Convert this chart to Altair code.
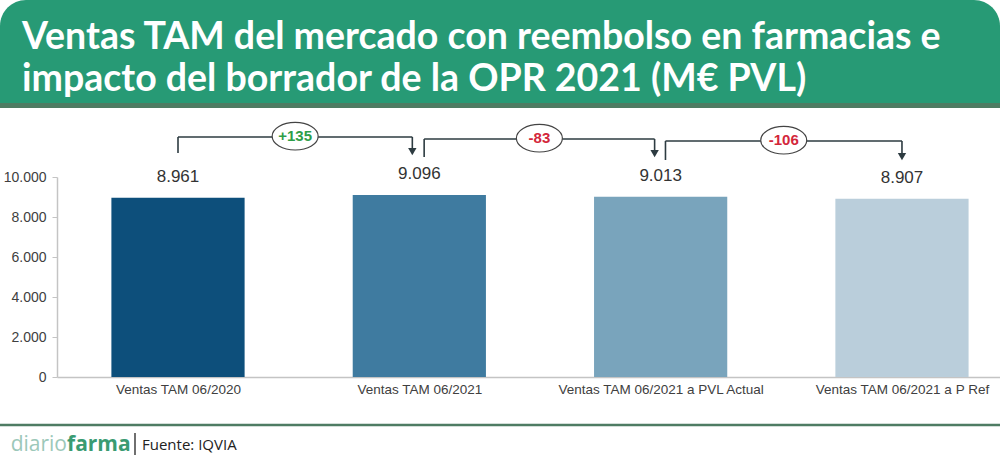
import json
import altair as alt
import pandas as pd

# ---------------- data ----------------
categories = [
    "Ventas TAM 06/2020",
    "Ventas TAM 06/2021",
    "Ventas TAM 06/2021 a PVL Actual",
    "Ventas TAM 06/2021 a P Ref",
]
values = [8961, 9096, 9013, 8907]
y_ticks = [0, 2000, 4000, 6000, 8000, 10000]
bar_colors = ["#0d4f7b", "#3f7ba0", "#79a4bc", "#bacedb"]

title_lines = [
    "Ventas TAM del mercado con reembolso en farmacias  e",
    "impacto del borrador de la OPR 2021 (M€ PVL)",
]
brand_light = "diario"
brand_bold = "farma"
source_text = "Fuente: IQVIA"

# ---------------- layout constants ----------------
W, H = 943, 200          # plot area
PL, PT = 57, 177         # plot origin in the page
X_DOMAIN = [-0.5014, 3.4062]
HALF_BAR = 0.276

GREEN = "#279a75"
DARK_GREEN = "#4e7c63"
LINE = "#2d3b41"
AXIS_GREY = "#c4c4c4"
TXT = "#404040"

xs = alt.Scale(domain=X_DOMAIN, nice=False, zero=False)
ys = alt.Scale(domain=[0, 10000], nice=False)

df = pd.DataFrame({"idx": list(range(len(categories))), "cat": categories, "value": values})

# bracket annotations between consecutive bars (geometry constants in code)
start_off = [0.0, 0.02, 0.02]
end_off = [-0.029, -0.025, 0.0]
top_lvl = [12000, 11900, 11800]
left_bottom = [11200, 11000, 10850]
tip_lvl = [11100, 11000, 10850]
rows = []
for i in range(len(values) - 1):
    s = i + start_off[i]
    e = i + 1 + end_off[i]
    rows.append({
        "xs": s, "xe": e, "xm": (s + e) / 2,
        "top": top_lvl[i], "lb": left_bottom[i],
        "shaft": tip_lvl[i] + 250, "head": tip_lvl[i] + 170,
        "ell": top_lvl[i] + 40,
        "delta": values[i + 1] - values[i],
    })
br = pd.DataFrame(rows)
one = pd.DataFrame({"k": [0]})

label_expr = json.dumps(categories) + "[datum.value]"

X_AXIS = alt.Axis(values=[0, 1, 2, 3], labelExpr=label_expr, ticks=False,
                  grid=False, domainColor=AXIS_GREY, domainWidth=1.5,
                  labelFont="Liberation Sans", labelFontSize=13.5,
                  labelColor=TXT, labelPadding=5, labelLimit=0,
                  labelOverlap=False)
Y_AXIS = alt.Axis(values=y_ticks, grid=False, domainColor=AXIS_GREY, domainWidth=1.5,
                  tickColor=AXIS_GREY, tickSize=5, labelOverlap=False,
                  labelExpr="replace(format(datum.value, ','), ',', '.')",
                  labelFont="Liberation Sans", labelFontSize=14,
                  labelColor=TXT, labelPadding=6)


def X(field):
    return alt.X(field, scale=xs, title=None, axis=X_AXIS)


def Y(field):
    return alt.Y(field, scale=ys, title=None, axis=Y_AXIS)


bars = alt.Chart(df).mark_bar().encode(
    x=X("x0:Q"), x2="x1:Q",
    y=Y("value:Q"), y2=alt.datum(0),
    color=alt.Color("cat:N", scale=alt.Scale(domain=categories, range=bar_colors), legend=None),
).transform_calculate(x0=f"datum.idx - {HALF_BAR}", x1=f"datum.idx + {HALF_BAR}")

vlabels = alt.Chart(df).mark_text(
    dy=-21, fontSize=17, font="Liberation Sans", color="#333333", baseline="middle"
).encode(
    x=X("idx:Q"), y=Y("value:Q"), text="lbl:N",
).transform_calculate(lbl="replace(format(datum.value, ','), ',', '.')")

rule_kw = dict(color=LINE, strokeWidth=1.6)
hline = alt.Chart(br).mark_rule(**rule_kw).encode(x=X("xs:Q"), x2="xe:Q", y=Y("top:Q"))
lvert = alt.Chart(br).mark_rule(**rule_kw).encode(x=X("xs:Q"), y=Y("top:Q"), y2="lb:Q")
shaft = alt.Chart(br).mark_rule(**rule_kw).encode(x=X("xe:Q"), y=Y("top:Q"), y2="shaft:Q")
heads = alt.Chart(br).mark_point(shape="triangle-down", filled=True, fill=LINE, size=70,
                                 opacity=1).encode(x=X("xe:Q"), y=Y("head:Q"))
ELLIPSE = "M -1 0 A 1 0.6 0 1 1 1 0 A 1 0.6 0 1 1 -1 0 Z"
ells = alt.Chart(br).mark_point(shape=ELLIPSE, filled=True, fill="white", stroke="#444444",
                                strokeWidth=1.2, size=2116, opacity=1).encode(
    x=X("xm:Q"), y=Y("ell:Q"))
dtext = alt.Chart(br).mark_text(fontSize=15, fontWeight="bold", font="Liberation Sans",
                                baseline="middle").encode(
    x=X("xm:Q"), y=Y("ell:Q"), text="dl:N",
    color=alt.condition("datum.delta > 0", alt.value("#2e9e48"), alt.value("#d3263a")),
).transform_calculate(dl="(datum.delta > 0 ? '+' : '') + datum.delta")

# banner
banner = alt.Chart(one).mark_rect(color=GREEN, cornerRadiusTopLeft=26, cornerRadiusTopRight=26).encode(
    x=alt.value(-PL), x2=alt.value(W), y=alt.value(-PT), y2=alt.value(103 - PT))
stripe = alt.Chart(one).mark_rect(color=DARK_GREEN).encode(
    x=alt.value(-PL), x2=alt.value(W), y=alt.value(103 - PT), y2=alt.value(108 - PT))
title_kw = dict(align="left", baseline="alphabetic", color="white", fontWeight="bold",
                font="Lato", fontSize=37.5)
t1 = alt.Chart(one).mark_text(text=title_lines[0], **title_kw).encode(
    x=alt.value(22 - PL), y=alt.value(49 - PT))
t2 = alt.Chart(one).mark_text(text=title_lines[1], **title_kw).encode(
    x=alt.value(22 - PL), y=alt.value(91 - PT))

# footer
fline = alt.Chart(one).mark_rule(color=DARK_GREEN, strokeWidth=2.5).encode(
    x=alt.value(-PL), x2=alt.value(W), y=alt.value(425 - PT))
f1 = alt.Chart(one).mark_text(text=brand_light, align="right", baseline="alphabetic",
                              color="#9cc8b9", font="Open Sans", fontSize=21).encode(
    x=alt.value(67 - PL), y=alt.value(451 - PT))
f2 = alt.Chart(one).mark_text(text=brand_bold, align="left", baseline="alphabetic", fontWeight="bold",
                              color="#3a9b72", font="Open Sans", fontSize=21).encode(
    x=alt.value(67 - PL), y=alt.value(451 - PT))
f3 = alt.Chart(one).mark_rule(color="#222222", strokeWidth=1.3).encode(
    x=alt.value(135 - PL), y=alt.value(433 - PT), y2=alt.value(455 - PT))
f4 = alt.Chart(one).mark_text(text=source_text, align="left", baseline="alphabetic",
                              color="#222222", font="Open Sans", fontSize=15).encode(
    x=alt.value(142 - PL), y=alt.value(450 - PT))

chart = alt.layer(
    banner, stripe, t1, t2,
    bars, vlabels, hline, lvert, shaft, heads, ells, dtext,
    fline, f1, f2, f3, f4,
).properties(
    width=W, height=H,
    autosize=alt.AutoSizeParams(type="none"),
    padding={"left": PL, "top": PT, "right": 1000 - PL - W, "bottom": 458 - PT - H},
    background="white",
).configure_view(stroke=None)

chart.save("out.html", embed_options={"renderer": "svg", "actions": False})
